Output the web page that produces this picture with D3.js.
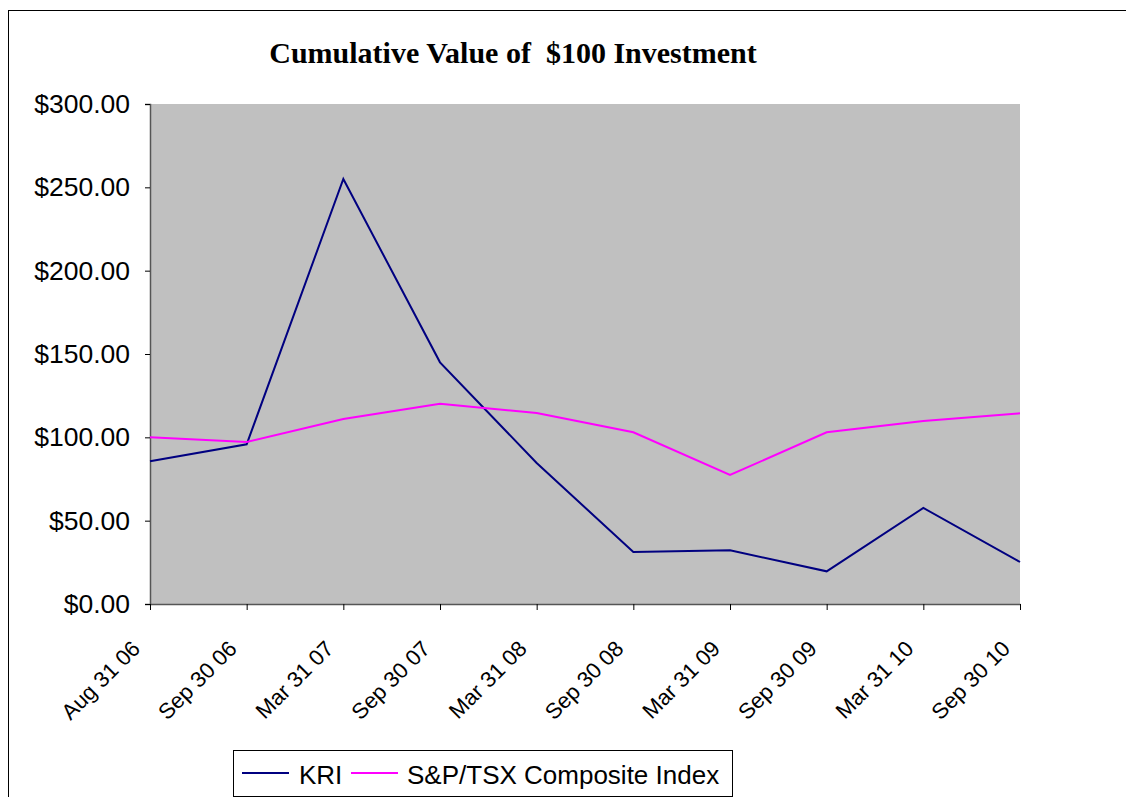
<!DOCTYPE html>
<html>
<head>
    <script src='https://cdn.jsdelivr.net/npm/d3@7'></script>
    <style type='text/css'>
        html, body { margin: 0; padding: 0; background: white; overflow: hidden; }
        text { font-family: Arial, 'Liberation Sans', sans-serif; }
    </style>
</head>
<body>
<script>
    // data
    const dates = ['Aug 31 06', 'Sep 30 06', 'Mar 31 07', 'Sep 30 07', 'Mar 31 08',
                   'Sep 30 08', 'Mar 31 09', 'Sep 30 09', 'Mar 31 10', 'Sep 30 10'];
    const kri = [85.6, 95.8, 255.0, 145.0, 84.6, 31.2, 32.2, 19.6, 57.6, 25.2];
    const tsx = [100.0, 97.2, 111.0, 120.2, 114.6, 103.0, 77.4, 103.0, 109.8, 114.4];
    const yTicks = [0, 50, 100, 150, 200, 250, 300];
    const seriesNames = ['KRI', 'S&P/TSX Composite Index'];
    const seriesColors = ['#000080', '#FF00FF'];

    const W = 1126, H = 797;
    const plot = { left: 150, right: 1020, top: 104, bottom: 604 };

    const svg = d3.select('body').append('svg')
        .attr('width', W).attr('height', H);

    // outer chart border
    svg.append('rect')
        .attr('x', 8.5).attr('y', 10.5)
        .attr('width', W + 10).attr('height', H + 10)
        .attr('fill', 'white').attr('stroke', 'black').attr('stroke-width', 1);

    const x = d3.scalePoint().domain(dates).range([plot.left, plot.right]);
    const y = d3.scaleLinear().domain([0, 300]).range([plot.bottom, plot.top]);

    // plot area
    svg.append('rect')
        .attr('x', plot.left).attr('y', plot.top)
        .attr('width', plot.right - plot.left).attr('height', plot.bottom - plot.top)
        .attr('fill', '#C0C0C0');

    // title
    svg.append('text')
        .attr('x', 513).attr('y', 63)
        .attr('text-anchor', 'middle')
        .style('font-family', "'Times New Roman', 'Liberation Serif', serif")
        .style('font-weight', 'bold')
        .style('font-size', '30px')
        .attr('xml:space', 'preserve')
        .text('Cumulative Value of  $100 Investment');

    // y axis
    const yAxis = svg.append('g')
        .attr('transform', `translate(${plot.left},0)`)
        .call(d3.axisLeft(y).tickValues(yTicks).tickSize(5).tickPadding(15)
            .tickFormat(d => '$' + d3.format('.2f')(d)));
    yAxis.selectAll('text').style('font-size', '26.5px').attr('fill', 'black');
    yAxis.select('.domain').attr('stroke', '#555').attr('stroke-width', 1.5);
    yAxis.selectAll('.tick line').attr('stroke', 'black');

    // x axis
    const xAxis = svg.append('g')
        .attr('transform', `translate(0,${plot.bottom})`)
        .call(d3.axisBottom(x).tickSize(6).tickSizeOuter(0));
    xAxis.select('.domain').attr('stroke', '#555').attr('stroke-width', 1.5);
    xAxis.selectAll('.tick line').attr('stroke', 'black');
    xAxis.selectAll('text')
        .style('font-size', '22px')
        .attr('fill', 'black')
        .attr('text-anchor', 'end')
        .attr('x', 0).attr('y', 0).attr('dy', 0)
        .attr('transform', 'translate(-9,46) rotate(-45)');

    // series lines
    const line = d3.line().x((d, i) => x(dates[i])).y(d => y(d));
    [kri, tsx].forEach((vals, k) => {
        svg.append('path')
            .datum(vals)
            .attr('fill', 'none')
            .attr('stroke', seriesColors[k])
            .attr('stroke-width', 2)
            .attr('d', line);
    });

    // legend
    const legend = svg.append('g');
    legend.append('rect')
        .attr('x', 233.5).attr('y', 750.5)
        .attr('width', 499).attr('height', 46)
        .attr('fill', 'white').attr('stroke', 'black');
    const legendPos = [{ lx: 242, tx: 299 }, { lx: 351, tx: 407 }];
    seriesNames.forEach((name, k) => {
        legend.append('line')
            .attr('x1', legendPos[k].lx).attr('x2', legendPos[k].lx + 47)
            .attr('y1', 773).attr('y2', 773)
            .attr('stroke', seriesColors[k]).attr('stroke-width', 2);
        legend.append('text')
            .attr('x', legendPos[k].tx).attr('y', 784)
            .style('font-size', '26px')
            .text(name);
    });
</script>
</body>
</html>
